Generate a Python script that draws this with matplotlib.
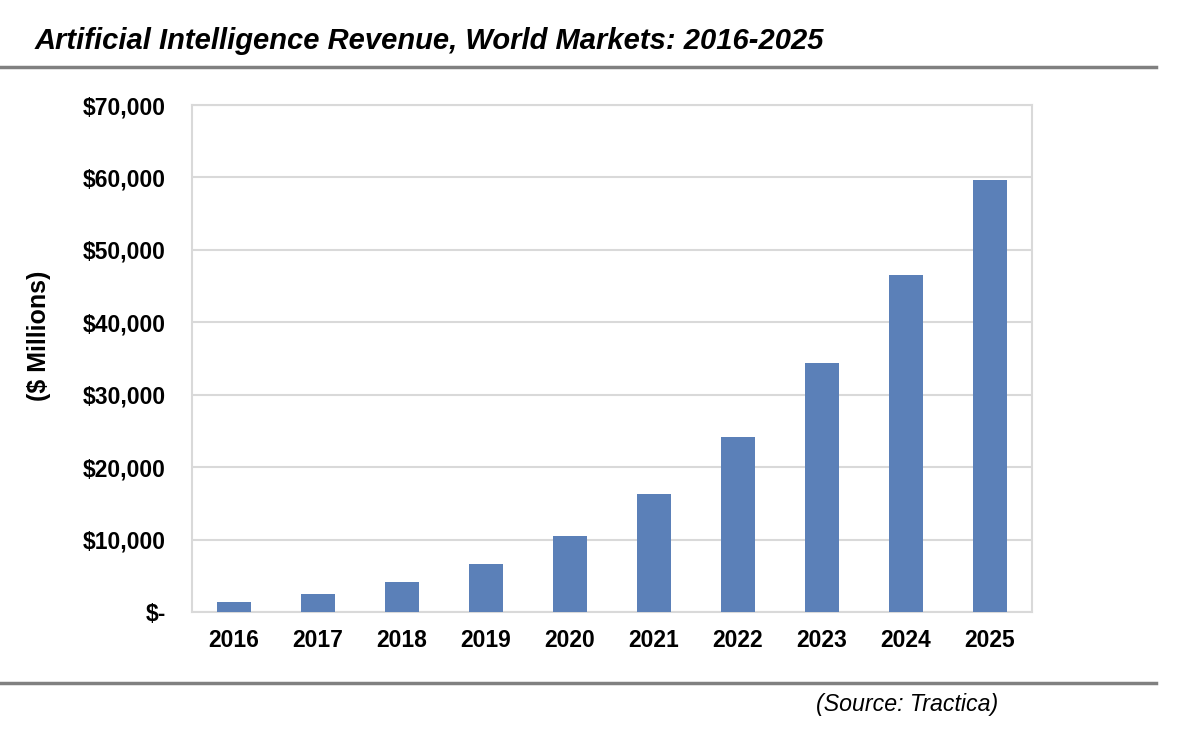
import matplotlib.pyplot as plt
from matplotlib.lines import Line2D
from matplotlib.ticker import FuncFormatter

plt.rcParams['font.family'] = ['Liberation Sans', 'DejaVu Sans']

# Data
years = ['2016', '2017', '2018', '2019', '2020', '2021', '2022', '2023', '2024', '2025']
revenue = [1400, 2450, 4100, 6600, 10500, 16300, 24200, 34400, 46500, 59700]
y_ticks = [0, 10000, 20000, 30000, 40000, 50000, 60000, 70000]

fig = plt.figure(figsize=(12, 7.39), dpi=100)
ax = fig.add_axes([192 / 1200, 1 - 612 / 739, 840 / 1200, 507 / 739])

ax.bar(range(len(years)), revenue, width=0.40, color='#5b80b8', zorder=3)
ax.set_xlim(-0.5, len(years) - 0.5)
ax.set_ylim(0, 70000)
ax.set_yticks(y_ticks)
ax.set_xticks(range(len(years)))
ax.set_xticklabels(years)


def money(v, pos):
    if v == 0:
        return '$-'
    return '${:,.0f}'.format(v)


ax.yaxis.set_major_formatter(FuncFormatter(money))
ax.grid(axis='y', color='#d9d9d9', linewidth=1.5, zorder=0)
for s in ax.spines.values():
    s.set_color('#d9d9d9')
    s.set_linewidth(1.5)
ax.tick_params(length=0, labelsize=16.5)
ax.tick_params(axis='y', pad=19)
ax.tick_params(axis='x', pad=12)
for lab in ax.get_xticklabels() + ax.get_yticklabels():
    lab.set_fontweight('bold')

fig.text(39 / 1200, 1 - 336 / 739, '($ Millions)', rotation=90, fontsize=18,
         fontweight='bold', ha='center', va='center')

fig.text(35 / 1200, 1 - 41 / 739, 'Artificial Intelligence Revenue, World Markets: 2016-2025',
         fontsize=21, fontweight='bold', fontstyle='italic', ha='left', va='center')

fig.add_artist(Line2D([0, 1156 / 1200], [1 - 67 / 739] * 2, color='#808080', linewidth=2.5))
fig.add_artist(Line2D([0, 1156 / 1200], [1 - 683 / 739] * 2, color='#808080', linewidth=2.5))

fig.text(907 / 1200, 1 - 704 / 739, '(Source: Tractica)', fontsize=16.7,
         fontstyle='italic', ha='center', va='center')

fig.savefig('out.png', dpi=100)
